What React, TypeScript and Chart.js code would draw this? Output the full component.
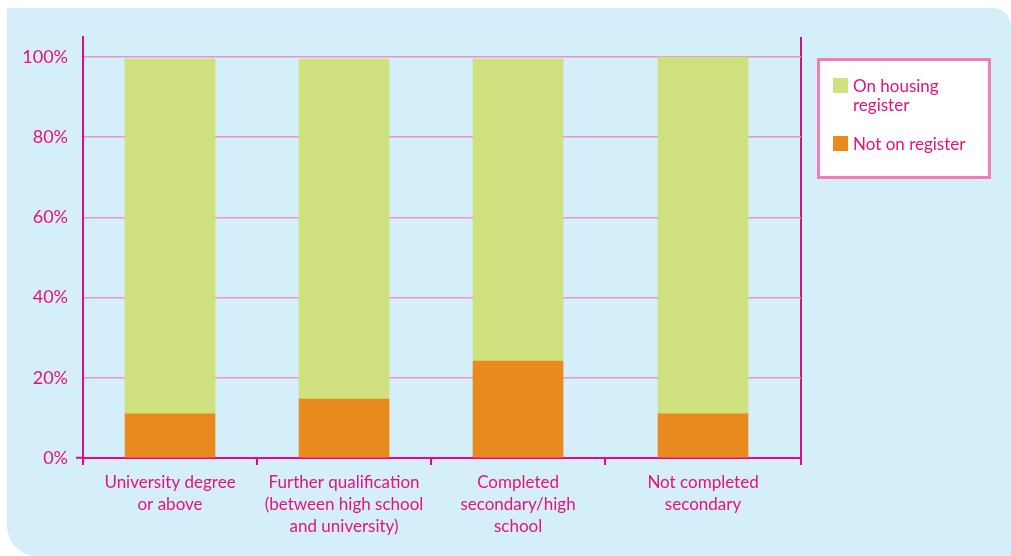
import React, { useEffect, useRef } from "react";
import { Chart, registerables } from "chart.js";

Chart.register(...registerables);

// Education level categories (each entry is the label's lines)
const CATEGORIES: string[][] = [
  ["University degree", "or above"],
  ["Further qualification", "(between high school", "and university)"],
  ["Completed", "secondary/high", "school"],
  ["Not completed", "secondary"],
];

// Share of households, per cent
const NOT_ON_REGISTER: number[] = [11.0, 14.7, 24.2, 11.0];
const ON_HOUSING_REGISTER: number[] = [88.5, 84.8, 75.3, 89.0];

const SERIES_LABELS = ["Not on register", "On housing register"];
const Y_TICKS: number[] = [0, 20, 40, 60, 80, 100];

const PINK = "#e5127d";
const AXIS = "#e8078a";
const FRAME = "#cc1580";
const GRID = "#ee93c4";
const GREEN = "#cfe07f";
const ORANGE = "#e98a1e";
const FONT = "Lato";

// The x axis runs across category slots; the last slot reaches the frame line.
const X_MIN = -0.5;
const X_MAX = 3.626;
const SLOT_EDGES: number[] = CATEGORIES.map((_, i) => i - 0.5).concat([X_MAX]);
const SLOT_CENTRES: number[] = CATEGORIES.map((_, i) => (SLOT_EDGES[i] + SLOT_EDGES[i + 1]) / 2);

// Boxed legend to the right of the plot, with word-wrapped labels
const boxLegend = {
  id: "boxLegend",
  afterDraw(chart: any) {
    const { ctx, chartArea } = chart;
    const left = chartArea.right + 16;
    const top = chartArea.top + 21;
    const width = 174;
    const height = 121;
    ctx.save();
    ctx.fillStyle = "#ffffff";
    ctx.fillRect(left, top, width, height);
    ctx.strokeStyle = "#f17db2";
    ctx.lineWidth = 3;
    ctx.strokeRect(left + 1.5, top + 1.5, width - 3, height - 3);

    ctx.font = `17px ${FONT}`;
    ctx.textBaseline = "alphabetic";
    ctx.textAlign = "left";
    const lineH = 18.5;
    const maxW = 125;
    let y = top + 20;
    const items = [...chart.data.datasets].reverse();
    for (const ds of items) {
      ctx.fillStyle = ds.backgroundColor;
      ctx.fillRect(left + 16, y, 15, 15);
      const words = String(ds.label).split(" ");
      const lines: string[] = [];
      let cur = "";
      for (const w of words) {
        const test = cur ? cur + " " + w : w;
        if (cur && ctx.measureText(test).width > maxW) {
          lines.push(cur);
          cur = w;
        } else {
          cur = test;
        }
      }
      if (cur) lines.push(cur);
      ctx.fillStyle = PINK;
      lines.forEach((ln, i) => {
        ctx.fillText(ln, left + 36, y + 14 + i * lineH);
      });
      y += lines.length * lineH + 21;
    }
    ctx.restore();
  },
};

export default function App() {
  const ref = useRef<HTMLCanvasElement | null>(null);

  useEffect(() => {
    if (!ref.current) return;
    const chart = new Chart(ref.current, {
      type: "bar",
      data: {
        datasets: [
          {
            label: SERIES_LABELS[0],
            data: NOT_ON_REGISTER.map((v, i) => ({ x: SLOT_CENTRES[i], y: v })),
            backgroundColor: ORANGE,
            barThickness: 90,
          },
          {
            label: SERIES_LABELS[1],
            data: ON_HOUSING_REGISTER.map((v, i) => ({ x: SLOT_CENTRES[i], y: v })),
            backgroundColor: GREEN,
            barThickness: 90,
          },
        ],
      },
      options: {
        responsive: false,
        animation: false,
        layout: { padding: { left: 0, right: 210, top: 37, bottom: 0 } },
        plugins: {
          legend: { display: false },
          tooltip: { enabled: false },
        },
        scales: {
          x: {
            type: "linear",
            stacked: true,
            offset: false,
            min: X_MIN,
            max: X_MAX,
            // slot edges carry tick marks; slot centres carry the category labels
            afterBuildTicks: (scale: any) => {
              const ticks: { value: number }[] = [];
              CATEGORIES.forEach((_, i) => {
                ticks.push({ value: SLOT_EDGES[i] });
                ticks.push({ value: SLOT_CENTRES[i] });
              });
              ticks.push({ value: X_MAX });
              scale.ticks = ticks;
            },
            afterFit: (scale: any) => {
              scale.height = 98;
            },
            ticks: {
              autoSkip: false,
              maxRotation: 0,
              padding: 6,
              color: PINK,
              font: { family: FONT, size: 17, lineHeight: 1.3 },
              callback: (_v: any, index: number) =>
                index % 2 === 1 ? CATEGORIES[(index - 1) / 2] : "",
            },
            grid: {
              offset: false,
              drawOnChartArea: true,
              drawTicks: true,
              tickLength: 7,
              lineWidth: 2,
              tickWidth: 2,
              color: (c: any) => (c.tick && c.tick.value === X_MAX ? FRAME : "transparent"),
              tickColor: (c: any) => (c.index % 2 === 0 ? AXIS : "transparent"),
            },
            border: { display: true, color: AXIS, width: 2 },
          },
          y: {
            stacked: true,
            min: 0,
            max: 105,
            afterBuildTicks: (scale: any) => {
              scale.ticks = Y_TICKS.map((v) => ({ value: v }));
            },
            afterFit: (scale: any) => {
              scale.width = 83;
            },
            ticks: {
              padding: 8,
              color: PINK,
              font: { family: FONT, size: 18 },
              callback: (v: any) => `${v}%`,
            },
            grid: {
              drawTicks: true,
              tickLength: 7,
              lineWidth: 1.5,
              tickWidth: 2,
              color: (c: any) => (c.tick && c.tick.value === 0 ? "transparent" : GRID),
              tickColor: (c: any) => (c.tick && c.tick.value === 0 ? AXIS : "transparent"),
            },
            border: { display: true, color: AXIS, width: 2 },
          },
        },
      },
      plugins: [boxLegend],
    });
    return () => chart.destroy();
  }, []);

  return (
    <div>
      <div
        style={{
          position: "absolute",
          left: 7,
          top: 8,
          width: 1004,
          height: 548,
          background: "#d4eefa",
          borderRadius: "0 18px 0 30px",
        }}
      />
      <canvas
        ref={ref}
        width={1011}
        height={556}
        style={{ position: "absolute", left: 0, top: 0, width: 1011, height: 556 }}
      />
    </div>
  );
}
